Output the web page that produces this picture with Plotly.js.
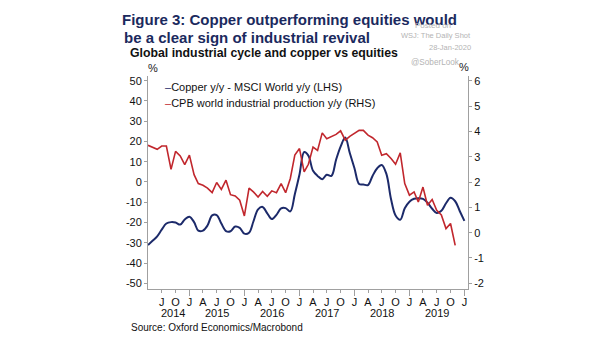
<!DOCTYPE html>
<html>
<head>
<meta charset="utf-8">
<script src="https://cdn.plot.ly/plotly-3.0.1.min.js"></script>
<style>html,body{margin:0;padding:0;background:#fff;}#chart{width:605px;height:341px;}</style>
</head>
<body>
<div id="chart"></div>
<script>
// ---- Data ----
const startMonth = [2014, 4]; // first monthly observation: Apr 2014

// Copper y/y minus MSCI World y/y, % (LHS), monthly Apr 2014 - Jan 2020
const copperVsEquities = [
  -31.1, -29.0, -26.8, -23.5, -20.5, -19.8, -20.0, -21.0, -18.5, -17.1,
  -19.8, -24.0, -24.0, -21.5, -16.5, -16.3, -20.5, -24.2, -24.3, -22.0,
  -22.6, -25.5, -25.0, -19.5, -13.5, -12.3, -15.5, -18.3, -16.2, -13.0,
  -12.9, -14.5, -6.0, 3.7, 14.8, 13.0, 5.5, 3.0, 1.4, 3.6,
  3.0, 11.0, 17.5, 21.9, 14.3, 6.8, -1.0, -1.2, -1.5, 3.0,
  6.8, 8.4, 4.0, -8.5, -16.5, -18.6, -13.0, -9.7, -8.3, -8.0,
  -8.3, -10.2, -13.2, -15.3, -14.2, -10.5, -7.8, -9.5, -14.3, -19.2
];

// CPB world industrial production y/y, % (RHS), monthly Apr 2014 - Nov 2019
const cpbIndustrialProduction = [
  3.45, 3.38, 3.29, 3.42, 3.42, 2.50, 3.21, 3.03, 2.69, 3.06,
  2.29, 1.94, 1.87, 1.76, 1.58, 1.98, 1.71, 2.07, 1.50, 1.45,
  1.28, 0.66, 1.76, 1.61, 1.41, 1.63, 1.44, 1.65, 1.58, 1.94,
  1.58, 2.14, 3.06, 3.32, 2.40, 2.70, 3.38, 3.25, 3.94, 3.71,
  3.78, 3.88, 4.02, 3.65, 3.80, 3.91, 4.04, 4.04, 3.85, 3.75,
  3.58, 3.06, 3.12, 2.93, 2.70, 3.15, 1.94, 1.48, 1.61, 1.21,
  1.80, 1.08, 1.31, 0.88, 0.70, 0.16, 0.36, -0.50
];

const seriesNames = ["Copper y/y - MSCI World y/y (LHS)", "CPB world industrial production y/y (RHS)"];
const seriesColors = ["#1c2a6a", "#c1272d"];

const quarterTickDates = ["2014-07-01","2014-10-01","2015-01-01","2015-04-01","2015-07-01","2015-10-01",
  "2016-01-01","2016-04-01","2016-07-01","2016-10-01","2017-01-01","2017-04-01","2017-07-01","2017-10-01",
  "2018-01-01","2018-04-01","2018-07-01","2018-10-01","2019-01-01","2019-04-01","2019-07-01","2019-10-01","2020-01-01"];
const quarterTickLabels = ["J","O","J","A","J","O","J","A","J","O","J","A","J","O","J","A","J","O","J","A","J","O","J"];
const yearStartDates = ["2015-01-01","2016-01-01","2017-01-01","2018-01-01","2019-01-01","2020-01-01"];
const yearLabels = ["2014","2015","2016","2017","2018","2019"];
const yearLabelDates = ["2014-09-13","2015-07-01","2016-07-01","2017-07-01","2018-07-01","2019-07-01"];

const leftTicks = [-50,-40,-30,-20,-10,0,10,20,30,40,50];
const rightTicks = [-2,-1,0,1,2,3,4,5,6];

const titleLines = ["Figure 3: Copper outperforming equities would", "be a clear sign of industrial revival"];
const subtitle = "Global industrial cycle and copper vs equities";
const sourceText = "Source: Oxford Economics/Macrobond";
const watermark = ["Posted on", "WSJ: The Daily Shot", "28-Jan-2020", "@SoberLook"];

// ---- Build ----
function monthDates(n) {
  const out = [];
  for (let i = 0; i < n; i++) {
    const t = (startMonth[0] * 12 + startMonth[1] - 1) + i;
    const y = Math.floor(t / 12), m = t % 12 + 1;
    out.push(y + "-" + String(m).padStart(2, "0") + "-01");
  }
  return out;
}

const FONT = "Liberation Sans, Arial, sans-serif";
const axisGray = "#a0a0a0";
const xRange = ["2014-04-01", "2020-01-25"];
const TITLE_SIZE = 15;

const traces = [
  {
    x: monthDates(copperVsEquities.length), y: copperVsEquities,
    name: seriesNames[0], type: "scatter", mode: "lines",
    line: {color: seriesColors[0], width: 2, shape: "spline", smoothing: 1},
    xaxis: "x", yaxis: "y", hoverinfo: "x+y"
  },
  {
    x: monthDates(cpbIndustrialProduction.length), y: cpbIndustrialProduction,
    name: seriesNames[1], type: "scatter", mode: "lines",
    line: {color: seriesColors[1], width: 1.6},
    xaxis: "x2", yaxis: "y2", hoverinfo: "x+y"
  }
];

const annotations = [];
// 0: second title line
annotations.push({xref: "paper", yref: "paper", xanchor: "left",
  text: "<b>" + titleLines[1] + "</b>", showarrow: false, font: {family: FONT, size: TITLE_SIZE, color: "#1b2a5e"}});
// 1: subtitle
annotations.push({xref: "paper", yref: "paper", xanchor: "left",
  text: "<b>" + subtitle + "</b>", showarrow: false, font: {family: FONT, size: 12.3, color: "#111"}});
// 2,3: % labels
annotations.push({xref: "paper", yref: "paper", xanchor: "center",
  text: "%", showarrow: false, font: {family: FONT, size: 11, color: "#222"}});
annotations.push({xref: "paper", yref: "paper", xanchor: "center",
  text: "%", showarrow: false, font: {family: FONT, size: 11, color: "#222"}});
// 4,5: legend (inline)
seriesNames.forEach((n, i) => {
  annotations.push({xref: "paper", yref: "paper", xanchor: "left",
    text: '<span style="color:' + seriesColors[i] + '">–</span>' + n, showarrow: false,
    font: {family: FONT, size: 11, color: "#111"}});
});
// 6-11: year labels
yearLabels.forEach((t, i) => {
  annotations.push({xref: "x", yref: "paper", x: yearLabelDates[i], xanchor: "center",
    text: t, showarrow: false, font: {family: FONT, size: 11, color: "#111"}});
});
// 12: source
annotations.push({xref: "paper", yref: "paper", xanchor: "left",
  text: sourceText, showarrow: false, font: {family: FONT, size: 10, color: "#111"}});
// 13-16: watermark
annotations.push({xref: "paper", yref: "paper", xanchor: "left",
  text: watermark[0], showarrow: false, font: {family: FONT, size: 8, color: "#b4b4b4"}});
annotations.push({xref: "paper", yref: "paper", xanchor: "right",
  text: watermark[1], showarrow: false, font: {family: FONT, size: 7.5, color: "#b4b4b4"}});
annotations.push({xref: "paper", yref: "paper", xanchor: "right",
  text: watermark[2], showarrow: false, font: {family: FONT, size: 7.5, color: "#b4b4b4"}});
annotations.push({xref: "paper", yref: "paper", xanchor: "left",
  text: watermark[3], showarrow: false, font: {family: FONT, size: 8.2, color: "#b4b4b4"}});

// place annotations in pixel terms
const M = {l: 148, r: 137, t: 76, b: 52};
const W = 605, H = 341, PW = W - M.l - M.r, PH = H - M.t - M.b;
function px(xp) { return (xp - M.l) / PW; }
function py(yp) { return (H - M.b - yp) / PH; }
// [index, xpx, ypx(center)]
const place = [
  [0, 122, 37], [1, 128, 53.5], [2, 153, 68], [3, 464, 67],
  [4, 163, 86.5], [5, 163, 102.5],
  [12, 129, 327],
  [13, 413, 25], [14, 473, 36], [15, 473, 47.5], [16, 409, 62.5]
];
place.forEach(([i, xp, yp]) => {
  annotations[i].x = px(xp); annotations[i].y = py(yp); annotations[i].yanchor = "middle";
});
for (let i = 6; i < 12; i++) { annotations[i].y = py(312.5); annotations[i].yanchor = "middle"; }

const layout = {
  width: W, height: H, margin: M,
  paper_bgcolor: "#ffffff", plot_bgcolor: "#ffffff",
  showlegend: false,
  font: {family: FONT, size: 11, color: "#111"},
  title: {text: "<b>" + titleLines[0] + "</b>", xref: "container", yref: "container",
    x: 122 / W, xanchor: "left", y: 1 - 20 / H, yanchor: "middle",
    font: {family: FONT, size: TITLE_SIZE, color: "#1b2a5e"}},
  xaxis: {type: "date", range: xRange, showgrid: false, zeroline: false,
    showline: true, linecolor: axisGray, linewidth: 1,
    tickmode: "array", tickvals: quarterTickDates, ticktext: quarterTickLabels,
    ticks: "outside", ticklen: 3, tickcolor: axisGray, tickfont: {family: FONT, size: 11, color: "#111"},
    anchor: "y"},
  xaxis2: {type: "date", range: xRange, overlaying: "x", anchor: "y", side: "bottom",
    showgrid: false, zeroline: false, showline: false,
    tickmode: "array", tickvals: yearStartDates, ticks: "outside", ticklen: 6, tickcolor: axisGray,
    showticklabels: false},
  yaxis: {range: [-52.8, 52.3], showgrid: false, zeroline: false,
    showline: true, linecolor: axisGray, linewidth: 1,
    tickmode: "array", tickvals: leftTicks, ticktext: leftTicks.map(String),
    ticks: "outside", ticklen: 3, tickcolor: axisGray, tickfont: {family: FONT, size: 11, color: "#111"},
    anchor: "x"},
  yaxis2: {range: [-2.225, 6.186], overlaying: "y", side: "right", anchor: "x",
    showgrid: false, zeroline: false, showline: true, linecolor: axisGray, linewidth: 1,
    tickmode: "array", tickvals: rightTicks, ticktext: rightTicks.map(String),
    ticks: "outside", ticklen: 3, tickcolor: axisGray, tickfont: {family: FONT, size: 11, color: "#111"}},
  annotations: annotations
};

Plotly.newPlot("chart", traces, layout, {displayModeBar: false, staticPlot: true});
</script>
</body>
</html>
